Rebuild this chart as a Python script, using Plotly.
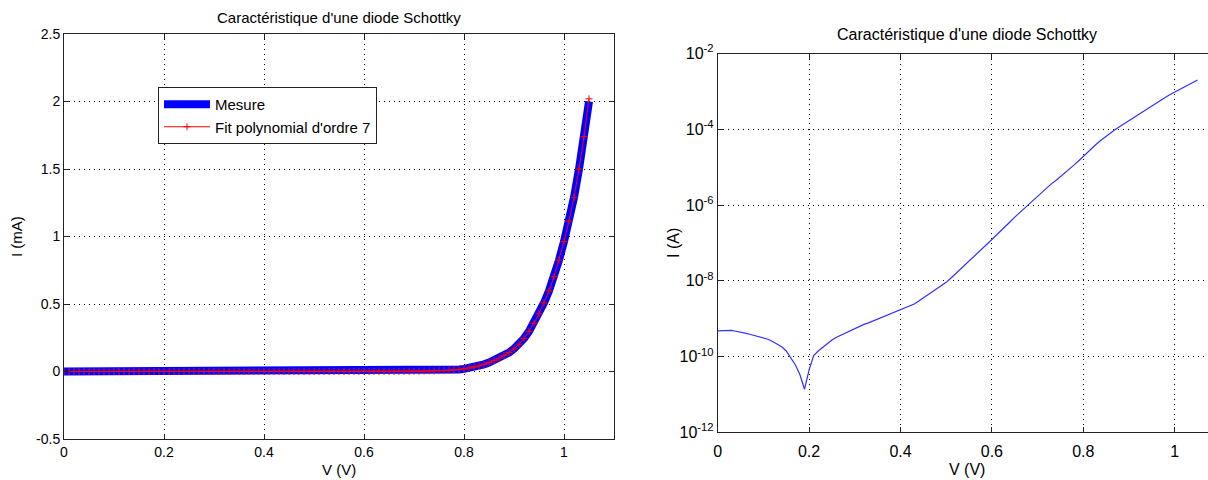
import plotly.graph_objects as go

# ---------------- data ----------------
voltage_V = [
    0.00, 0.01, 0.02, 0.03, 0.04, 0.05, 0.06, 0.07, 0.08, 0.09,
    0.10, 0.11, 0.12, 0.13, 0.14, 0.15, 0.16, 0.17, 0.18, 0.19,
    0.20, 0.21, 0.22, 0.23, 0.24, 0.25, 0.26, 0.27, 0.28, 0.29,
    0.30, 0.31, 0.32, 0.33, 0.34, 0.35, 0.36, 0.37, 0.38, 0.39,
    0.40, 0.41, 0.42, 0.43, 0.44, 0.45, 0.46, 0.47, 0.48, 0.49,
    0.50, 0.51, 0.52, 0.53, 0.54, 0.55, 0.56, 0.57, 0.58, 0.59,
    0.60, 0.61, 0.62, 0.63, 0.64, 0.65, 0.66, 0.67, 0.68, 0.69,
    0.70, 0.71, 0.72, 0.73, 0.74, 0.75, 0.76, 0.77, 0.78, 0.79,
    0.80, 0.81, 0.82, 0.83, 0.84, 0.85, 0.86, 0.87, 0.88, 0.89,
    0.90, 0.91, 0.92, 0.93, 0.94, 0.95, 0.96, 0.97, 0.98, 0.99,
    1.00, 1.01, 1.02, 1.03, 1.04, 1.05,
]

# measured current (A)
current_A = [
    4.79e-10, 4.90e-10, 5.01e-10, 4.90e-10, 4.68e-10, 4.47e-10, 4.17e-10, 3.89e-10, 3.63e-10, 3.39e-10,
    3.16e-10, 2.88e-10, 2.51e-10, 2.19e-10, 1.82e-10, 1.41e-10, 9.55e-11, 6.03e-11, 3.31e-11, 1.38e-11,
    4.47e-11, 1.07e-10, 1.41e-10, 1.78e-10, 2.24e-10, 2.75e-10, 3.24e-10, 3.72e-10, 4.17e-10, 4.79e-10,
    5.50e-10, 6.31e-10, 7.08e-10, 7.76e-10, 8.71e-10, 9.55e-10, 1.07e-9, 1.20e-9, 1.32e-9, 1.48e-9,
    1.66e-9, 1.91e-9, 2.14e-9, 2.45e-9, 2.95e-9, 3.55e-9, 4.27e-9, 5.13e-9, 6.17e-9, 7.59e-9,
    9.12e-9, 1.17e-8, 1.51e-8, 1.95e-8, 2.51e-8, 3.24e-8, 4.17e-8, 5.50e-8, 7.08e-8, 9.33e-8,
    1.23e-7, 1.62e-7, 2.09e-7, 2.75e-7, 3.63e-7, 4.79e-7, 6.17e-7, 7.94e-7, 1.00e-6, 1.32e-6,
    1.74e-6, 2.24e-6, 2.88e-6, 3.63e-6, 4.47e-6, 5.62e-6, 6.92e-6, 8.91e-6, 1.15e-5, 1.48e-5,
    1.95e-5, 2.55e-5, 3.30e-5, 4.20e-5, 5.30e-5, 6.60e-5, 8.10e-5, 9.80e-5, 1.18e-4, 1.41e-4,
    1.68e-4, 2.02e-4, 2.45e-4, 2.97e-4, 3.58e-4, 4.28e-4, 5.08e-4, 5.98e-4, 7.03e-4, 8.25e-4,
    9.62e-4, 1.115e-3, 1.29e-3, 1.50e-3, 1.74e-3, 2.00e-3,
]

# 7th-order polynomial fit (mA)
fit_mA = [
    0.0, 0.0, 0.0, 0.0, 0.0, 0.0, 0.0, 0.0, 0.0, 0.0,
    0.0, 0.0, 0.0, 0.0, 0.0, 0.0, 0.0, 0.0, 0.0, 0.0,
    0.0, 0.0, 0.0, 0.0, 0.0, 0.0, 0.0, 0.0, 0.0, 0.0,
    0.0, 0.0, 0.0, 0.0, 0.0, 0.0, 0.0, 0.0, 0.0, 0.0,
    0.0, 0.0, 0.0, 0.0, 0.0, 0.0, 0.0, 0.0, 0.0, 0.0,
    0.0, 0.0, 0.0, 0.0, 0.0, 0.0, 0.0, 0.0, 0.0, 0.0,
    0.0, 0.0, 0.0, 0.0, 0.0, 0.0, 0.0, 0.001, 0.001, 0.001,
    0.002, 0.002, 0.003, 0.004, 0.004, 0.006, 0.007, 0.009, 0.012, 0.015,
    0.0195, 0.0255, 0.033, 0.042, 0.053, 0.066, 0.081, 0.098, 0.118, 0.141,
    0.168, 0.202, 0.245, 0.297, 0.358, 0.428, 0.508, 0.598, 0.703, 0.825,
    0.962, 1.115, 1.29, 1.50, 1.74, 2.02,
]

current_mA = [i * 1000.0 for i in current_A]

x_ticks = [0, 0.2, 0.4, 0.6, 0.8, 1.0]
x_ticktext = ["0", "0.2", "0.4", "0.6", "0.8", "1"]
y_lin_ticks = [-0.5, 0, 0.5, 1.0, 1.5, 2.0, 2.5]
y_lin_ticktext = ["-0.5", "0", "0.5", "1", "1.5", "2", "2.5"]
y_log_ticks = [1e-12, 1e-10, 1e-8, 1e-6, 1e-4, 1e-2]
y_log_ticktext = ["10<sup>-12</sup>", "10<sup>-10</sup>", "10<sup>-8</sup>",
                  "10<sup>-6</sup>", "10<sup>-4</sup>", "10<sup>-2</sup>"]

title_text = "Caractéristique d'une diode Schottky"

# ---------------- layout geometry (pixels) ----------------
W, H = 1208, 480
FONT = "Liberation Sans, Arial, sans-serif"

def px_x(p):
    return p / W

def px_y(p):
    return 1 - p / H

fig = go.Figure()

fig.add_trace(go.Scatter(
    x=voltage_V, y=current_mA, mode="lines", name="Mesure",
    line=dict(color="#0000ff", width=8), xaxis="x", yaxis="y",
))
fig.add_trace(go.Scatter(
    x=voltage_V, y=fit_mA, mode="lines+markers", name="Fit polynomial d'ordre 7",
    line=dict(color="#ff0000", width=1),
    marker=dict(symbol="cross-thin", size=5, line=dict(color="#ff0000", width=1)),
    xaxis="x", yaxis="y",
))
fig.add_trace(go.Scatter(
    x=voltage_V, y=current_A, mode="lines", name="I (A)", showlegend=False,
    line=dict(color="#3030ff", width=1.2), xaxis="x2", yaxis="y2",
))

grid = dict(showgrid=True, gridcolor="#000000", gridwidth=1, griddash="1px,4px",
            zeroline=False, showline=True, linecolor="#222222", linewidth=1,
            ticks="inside", ticklen=5, tickcolor="#222222", automargin=False)

fig.update_layout(
    width=W, height=H, autosize=False,
    margin=dict(l=0, r=0, t=0, b=0, pad=0, autoexpand=False),
    paper_bgcolor="white", plot_bgcolor="white",
    font=dict(family=FONT, color="#000000", size=14),
    xaxis=dict(domain=[px_x(64), px_x(614)], range=[0, 1.1], anchor="y",
               tickvals=x_ticks, ticktext=x_ticktext, mirror="ticks",
               tickfont=dict(size=14), **grid),
    yaxis=dict(domain=[px_y(439), px_y(34)], range=[-0.5, 2.5], anchor="x",
               tickvals=y_lin_ticks, ticktext=y_lin_ticktext, mirror="ticks",
               tickfont=dict(size=14), **grid),
    xaxis2=dict(domain=[px_x(717.7), 1.0], range=[0, (W - 717.7) / 457.0], anchor="y2",
                tickvals=x_ticks, ticktext=x_ticktext, mirror="ticks",
                tickfont=dict(size=16), ticklabelstandoff=4, **grid),
    yaxis2=dict(domain=[px_y(432.4), px_y(53.5)], type="log", range=[-12, -2], anchor="x2",
                tickvals=y_log_ticks, ticktext=y_log_ticktext, mirror=False,
                tickfont=dict(size=16), **grid),
    legend=dict(x=px_x(158), y=px_y(87), xanchor="left", yanchor="top",
                bgcolor="white", bordercolor="#222222", borderwidth=1,
                font=dict(size=15), itemwidth=46, tracegroupgap=0),
    showlegend=True,
)

ann = [
    dict(text=title_text, x=px_x(339), y=px_y(18), font=dict(size=15)),
    dict(text="V (V)", x=px_x(339), y=px_y(469), font=dict(size=15)),
    dict(text="I (mA)", x=px_x(16), y=px_y(237), textangle=-90, font=dict(size=15)),
    dict(text=title_text, x=px_x(967), y=px_y(35), font=dict(size=16)),
    dict(text="V (V)", x=px_x(967), y=px_y(469), font=dict(size=16)),
    dict(text="I (A)", x=px_x(673), y=px_y(243), textangle=-90, font=dict(size=16)),
]
for a in ann:
    fig.add_annotation(xref="paper", yref="paper", xanchor="center", yanchor="middle",
                       showarrow=False, **a)

fig.write_html("out.html")
